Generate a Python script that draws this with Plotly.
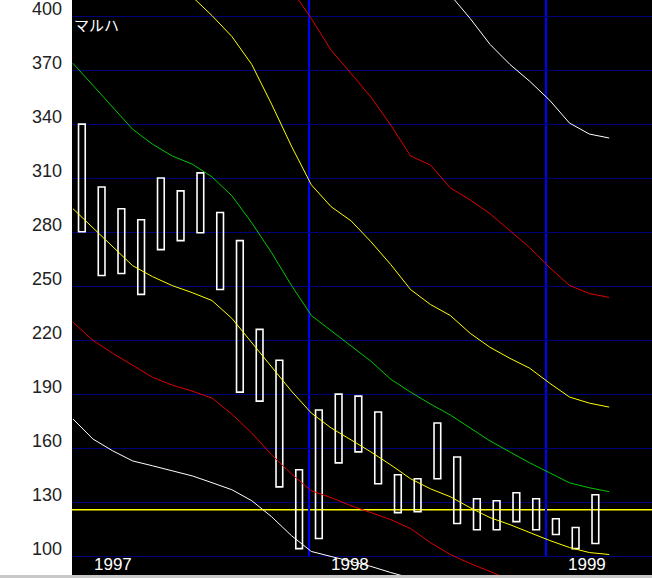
import numpy as np
import plotly.graph_objects as go

# ---- data ----
months = [f"{y}-{m:02d}" for y in (1997, 1998, 1999) for m in range(1, 13)][:27]
bar_high = [340.2, 305.3, 293.2, 287.1, 310.3, 303.1, 313.1, 291.1, 275.5, 226.2, 209.0, 148.2,
            181.4, 190.2, 189.1, 180.3, 145.4, 143.2, 174.2, 155.3, 132.1, 131.0, 135.4, 132.1,
            121.0, 116.1, 134.3]
bar_low = [280.4, 256.1, 257.2, 245.6, 270.5, 275.5, 279.9, 248.3, 191.3, 186.3, 138.7, 104.4,
           110.0, 152.0, 158.1, 140.4, 124.4, 124.9, 143.2, 118.3, 114.9, 114.9, 119.4, 114.9,
           112.2, 104.4, 107.2]

mid_yellow = [293.2, 282.7, 272.1, 261.6, 255.5, 250.5, 246.6, 242.2, 232.3, 219.0, 205.7, 191.9,
              179.7, 171.4, 164.8, 158.1, 150.9, 143.2, 137.6, 133.2, 127.1, 121.6, 117.7, 113.3,
              108.9, 105.0, 102.2, 101.1]
green = [374.0, 361.8, 349.6, 337.4, 329.1, 322.5, 318.0, 310.9, 300.4, 285.4, 268.8, 250.6,
         233.9, 225.6, 217.3, 208.5, 198.5, 191.3, 184.7, 178.6, 171.4, 164.2, 158.1, 152.0,
         146.5, 140.9, 138.2, 136.0]
up_yellow = [470, 455, 443, 432, 424, 418, 411, 400.5, 388.9, 373.4, 351.3, 328.0,
             306.5, 294.3, 286.5, 274.9, 262.2, 248.3, 240.0, 233.9, 224.0, 216.2, 210.1, 204.6,
             196.3, 188.6, 185.2, 183.0]
up_red = [560, 545, 530, 515, 505, 497, 490, 480, 465, 450, 432, 415,
          398.9, 381.2, 368.4, 355.2, 339.7, 322.5, 317.5, 304.8, 298.1, 290.4, 281.0, 271.6,
          260.5, 250.6, 246.1, 243.9]
up_white = [760, 740, 722, 705, 690, 678, 668, 655, 635, 612, 585, 558, 530, 505, 488, 470,
            452, 435, 423, 412, 398.9, 384.5, 373.4, 364.0, 353.5, 340.8, 334.7, 332.5]
low_red = [230.1, 220.1, 212.9, 206.3, 199.6, 195.2, 191.9, 188.0, 179.1, 168.6, 156.5, 145.9,
           136.5, 132.7, 128.2, 124.4, 120.5, 115.5, 107.7, 101.1, 96.1, 91.7, 87, 83,
           79, 76, 74, 73]
low_white = [176.4, 165.3, 158.7, 153.1, 150.4, 147.6, 144.8, 141.0, 137.1, 131.0, 122.1, 111.6,
             102.8, 100.0, 97.2, 94.5, 91.1, 88, 85, 82, 80, 78, 76, 74, 72, 71, 70, 69]

ref_level = 126.0
y_ticks = [100, 130, 160, 190, 220, 250, 280, 310, 340, 370, 400]
year_labels = ["1997", "1998", "1999"]
year_label_pos = [2.08, 14.07, 26.08]
year_lines = [12, 24]
title_text = "マルハ"

# ---- figure ----
bar_x = [i + 0.5 for i in range(len(months))]
line_x = np.linspace(0.05, 27.2, len(mid_yellow))

fig = go.Figure()

lines = [
    (up_white, "#FFFFFF"),
    (up_red, "#E00000"),
    (up_yellow, "#FFFF00"),
    (green, "#00C800"),
    (mid_yellow, "#FFFF00"),
    (low_red, "#E00000"),
    (low_white, "#FFFFFF"),
]
for vals, col in lines:
    fig.add_trace(go.Scatter(x=line_x, y=vals, mode="lines",
                             line=dict(color=col, width=1), hoverinfo="skip"))

fig.add_trace(go.Bar(
    x=bar_x,
    base=bar_low,
    y=[h - l for h, l in zip(bar_high, bar_low)],
    width=0.34,
    marker=dict(color="rgba(0,0,0,0)", line=dict(color="white", width=1.6)),
))

shapes = []
for xv in year_lines:
    shapes.append(dict(type="line", xref="x", yref="y", x0=xv, x1=xv, y0=100, y1=420,
                       line=dict(color="#0000FF", width=2), layer="below"))
shapes.append(dict(type="line", xref="paper", yref="y", x0=0, x1=1, y0=ref_level, y1=ref_level,
                   line=dict(color="#FFFF00", width=1.5), layer="below"))
# bottom grey strip
shapes.append(dict(type="rect", xref="paper", yref="paper", x0=-0.13, x1=1.01,
                   y0=-0.01, y1=0, fillcolor="#C8C8C8", line=dict(width=0), layer="above"))

annotations = []
for t in y_ticks:
    annotations.append(dict(xref="paper", yref="y", x=0, y=t, text=str(t), showarrow=False,
                            xanchor="right", yanchor="middle", xshift=-8, yshift=8,
                            font=dict(family="Liberation Sans Narrow, Liberation Sans, Arial",
                                      size=18, color="#222222")))
for lab, xp in zip(year_labels, year_label_pos):
    annotations.append(dict(xref="x", yref="y", x=xp, y=95.6, text=lab, showarrow=False,
                            xanchor="center", yanchor="middle",
                            font=dict(family="Liberation Sans Narrow, Liberation Sans, Arial",
                                      size=17, color="#FFFFFF")))
annotations.append(dict(xref="paper", yref="paper", x=0, y=1, text=title_text, showarrow=False,
                        xanchor="left", yanchor="top", xshift=0, yshift=-12,
                        font=dict(family="Noto Sans CJK JP", size=15, color="#FFFFFF")))

fig.update_layout(
    width=652, height=578,
    margin=dict(l=72, r=0, t=0, b=3),
    paper_bgcolor="#FFFFFF",
    plot_bgcolor="#000000",
    showlegend=False,
    shapes=shapes,
    annotations=annotations,
    xaxis=dict(range=[0, 29.367], showgrid=False, zeroline=False, showticklabels=False,
               ticks="", fixedrange=True),
    yaxis=dict(range=[89.7222, 409.1667], tick0=100, dtick=30, showgrid=True,
               gridcolor="#00007A", gridwidth=1, zeroline=False, showticklabels=False,
               ticks="", fixedrange=True),
    barmode="overlay",
)

fig.write_html("out.html", config={"displayModeBar": False},
               post_script="document.body.style.margin='0';document.body.style.overflow='hidden';")
